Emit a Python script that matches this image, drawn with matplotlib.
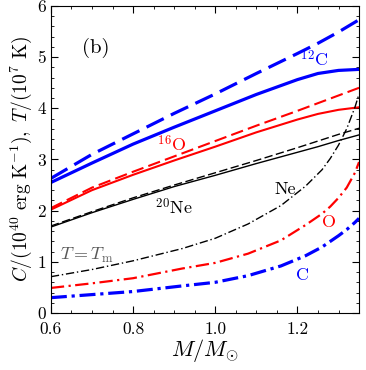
import matplotlib
matplotlib.use("Agg")
import matplotlib.pyplot as plt
from matplotlib.ticker import MultipleLocator

plt.rcParams['font.family'] = 'serif'
plt.rcParams['font.serif'] = ['cmr10', 'DejaVu Serif']
plt.rcParams['mathtext.fontset'] = 'cm'
plt.rcParams['axes.formatter.use_mathtext'] = True

# heat capacity (solid) and temperature-like (dashed) curves
m_c = [0.6, 0.7, 0.8, 0.9, 1.0, 1.1, 1.2, 1.25, 1.3, 1.35]
c12_solid = [2.55, 2.93, 3.30, 3.63, 3.95, 4.27, 4.56, 4.68, 4.74, 4.76]
c12_dash = [2.63, 3.10, 3.50, 3.90, 4.28, 4.68, 5.07, 5.27, 5.49, 5.73]
o16_solid = [2.02, 2.40, 2.70, 2.98, 3.25, 3.53, 3.78, 3.89, 3.97, 4.02]
o16_dash = [2.05, 2.45, 2.76, 3.06, 3.36, 3.66, 3.95, 4.10, 4.25, 4.40]
ne20_solid = [1.68, 1.96, 2.22, 2.47, 2.69, 2.92, 3.14, 3.25, 3.37, 3.48]
ne20_dash = [1.70, 1.98, 2.25, 2.50, 2.74, 2.98, 3.23, 3.36, 3.49, 3.61]

# T = T_m curves
m_tm = [0.6, 0.7, 0.8, 0.92, 1.0, 1.08, 1.16, 1.22, 1.26, 1.28, 1.30, 1.32, 1.34, 1.35]
ne_tm = [0.71, 0.85, 1.02, 1.26, 1.46, 1.74, 2.10, 2.48, 2.80, 3.02, 3.28, 3.60, 4.02, 4.28]
o_tm = [0.49, 0.58, 0.68, 0.87, 0.98, 1.16, 1.42, 1.72, 1.94, 2.08, 2.25, 2.45, 2.74, 2.95]
c_tm = [0.30, 0.36, 0.42, 0.53, 0.60, 0.73, 0.92, 1.12, 1.29, 1.40, 1.51, 1.63, 1.77, 1.85]

fig = plt.figure(figsize=(3.66, 3.70), dpi=100)
ax = fig.add_axes([0.139, 0.154, 0.842, 0.830])

ax.plot(m_c, c12_dash, color='blue', lw=2.3, dashes=(6, 2.5))
ax.plot(m_c, c12_solid, color='blue', lw=2.3)
ax.plot(m_c, o16_dash, color='red', lw=1.5, dashes=(6, 2.5))
ax.plot(m_c, o16_solid, color='red', lw=1.5)
ax.plot(m_c, ne20_dash, color='black', lw=1.0, dashes=(6, 2.5))
ax.plot(m_c, ne20_solid, color='black', lw=1.0)

ax.plot(m_tm, ne_tm, color='black', lw=1.0, dashes=(6, 2, 1, 2))
ax.plot(m_tm, o_tm, color='red', lw=1.6, dashes=(6, 2, 1, 2))
ax.plot(m_tm, c_tm, color='blue', lw=2.3, dashes=(5, 1.5, 1, 1.5))

ax.text(0.71, 5.18, '(b)', fontsize=15, ha='center', va='center')
ax.text(1.24, 4.96, r'$^{12}$C', color='blue', fontsize=13, ha='center', va='center')
ax.text(0.895, 3.3, r'$^{16}$O', color='red', fontsize=13, ha='center', va='center')
ax.text(0.898, 2.07, r'$^{20}$Ne', color='black', fontsize=13, ha='center', va='center')
ax.text(1.17, 2.42, 'Ne', color='black', fontsize=13, ha='center', va='center')
ax.text(1.276, 1.78, 'O', color='red', fontsize=13, ha='center', va='center')
ax.text(1.213, 0.74, 'C', color='blue', fontsize=13, ha='center', va='center')
ax.text(0.622, 1.12, r'$T=T_{\rm m}$', color='0.35', fontsize=13, ha='left', va='center')

ax.set_xlim(0.6, 1.35)
ax.set_ylim(0, 6)
ax.xaxis.set_minor_locator(MultipleLocator(0.05))
ax.yaxis.set_minor_locator(MultipleLocator(0.2))
ax.tick_params(which='both', direction='in', top=True, right=True, labelsize=12.5)
ax.tick_params(which='major', length=5)
ax.tick_params(which='minor', length=2.5)
ax.tick_params(axis='x', pad=6)
ax.set_xticks([0.6, 0.8, 1.0, 1.2])
ax.set_xticklabels(['0.6', '0.8', '1.0', '1.2'])
ax.set_yticks([0, 1, 2, 3, 4, 5, 6])
ax.set_yticklabels(['0', '1', '2', '3', '4', '5', '6'])

ax.set_xlabel(r'$M/M_{\odot}$', fontsize=16, labelpad=0)
ax.set_ylabel(r'$C/(10^{40}\ {\rm erg\ K^{-1}}),\ T/(10^{7}\ {\rm K})$', fontsize=14, labelpad=2)

fig.savefig('out.png', dpi=100)
